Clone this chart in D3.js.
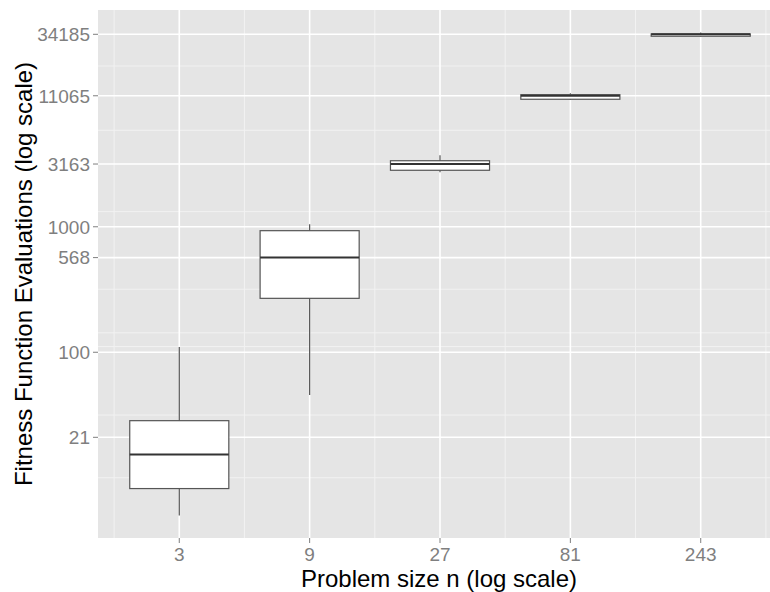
<!DOCTYPE html>
<html>
<head>
<meta charset="utf-8">
<style>
    body { margin: 0; background: white; }
    svg { display: block; font-family: 'Liberation Sans', Arial, sans-serif; }
    .tick-label { fill: #7f7f7f; font-size: 19px; }
    .axis-title { fill: black; font-size: 24px; }
</style>
</head>
<body>
<svg width="770" height="592"></svg>

<script src="https://d3js.org/d3.v7.min.js"></script>
<script>

    // problem sizes and box stats
    let sizes = [3, 9, 27, 81, 243]
    let whiskerLow = [5.0, 45.7, 2720, 10300, 32700]
    let q1 = [8.2, 269, 2820, 10380, 33000]
    let median = [15.3, 568, 3163, 11065, 34185]
    let q3 = [28.5, 931, 3360, 11290, 34400]
    let whiskerHigh = [110, 1047, 3715, 11590, 35400]

    // axis breaks
    let yTicks = [21, 100, 568, 1000, 3163, 11065, 34185]
    let yMinor = [10, 31.6, 111, 143, 318, 1320, 5875, 19100]
    let xTicks = [3, 9, 27, 81, 243]
    let xMinor = [1.732, 5.196, 15.59, 46.77, 140.3, 420.9]

    let boxes = sizes.map((s, i) => ({
        n: s, lo: whiskerLow[i], q1: q1[i], med: median[i], q3: q3[i], hi: whiskerHigh[i]
    }))

    let width = 770
    let height = 592
    let panel = { left: 98, top: 10, right: 782, bottom: 538 }

    let svg = d3.select("svg")

    let x = d3.scaleLog().base(3)
        .domain([Math.pow(3, 0.3765), Math.pow(3, 5.6235)])
        .range([panel.left, panel.right])

    let y = d3.scaleLog()
        .domain([3.31, 53400])
        .range([panel.bottom, panel.top])

    let halfW = Math.pow(3, 0.38)   // box half width, in log3 units

    // panel background
    svg.append("rect")
        .attr("x", panel.left)
        .attr("y", panel.top)
        .attr("width", width - panel.left)
        .attr("height", panel.bottom - panel.top)
        .style("fill", "#e5e5e5")

    let grid = svg.append("g")

    grid.selectAll(".ymin")
        .data(yMinor)
        .join("line")
        .attr("x1", panel.left).attr("x2", width)
        .attr("y1", d => y(d)).attr("y2", d => y(d))
        .style("stroke", "#f2f2f2")
        .style("stroke-width", 1)

    grid.selectAll(".xmin")
        .data(xMinor)
        .join("line")
        .attr("x1", d => x(d)).attr("x2", d => x(d))
        .attr("y1", panel.top).attr("y2", panel.bottom)
        .style("stroke", "#f2f2f2")
        .style("stroke-width", 1)

    grid.selectAll(".ymaj")
        .data(yTicks)
        .join("line")
        .attr("x1", panel.left).attr("x2", width)
        .attr("y1", d => y(d)).attr("y2", d => y(d))
        .style("stroke", "white")
        .style("stroke-width", 1.6)

    grid.selectAll(".xmaj")
        .data(xTicks)
        .join("line")
        .attr("x1", d => x(d)).attr("x2", d => x(d))
        .attr("y1", panel.top).attr("y2", panel.bottom)
        .style("stroke", "white")
        .style("stroke-width", 1.6)

    // boxplots
    let g = svg.append("g")
        .selectAll(".box")
        .data(boxes)
        .join("g")

    g.append("line")
        .attr("x1", d => x(d.n)).attr("x2", d => x(d.n))
        .attr("y1", d => y(d.hi)).attr("y2", d => y(d.lo))
        .style("stroke", "#555555")
        .style("stroke-width", 1.2)

    g.append("rect")
        .attr("x", d => x(d.n / halfW))
        .attr("width", d => x(d.n * halfW) - x(d.n / halfW))
        .attr("y", d => y(d.q3))
        .attr("height", d => y(d.q1) - y(d.q3))
        .style("fill", "white")
        .style("stroke", "#555555")
        .style("stroke-width", 1.2)

    g.append("line")
        .attr("x1", d => x(d.n / halfW)).attr("x2", d => x(d.n * halfW))
        .attr("y1", d => y(d.med)).attr("y2", d => y(d.med))
        .style("stroke", "#333333")
        .style("stroke-width", 2)

    // axes
    let yAxis = svg.append("g")
    yAxis.selectAll("line")
        .data(yTicks)
        .join("line")
        .attr("x1", panel.left - 5).attr("x2", panel.left)
        .attr("y1", d => y(d)).attr("y2", d => y(d))
        .style("stroke", "#7f7f7f")
    yAxis.selectAll("text")
        .data(yTicks)
        .join("text")
        .attr("class", "tick-label")
        .attr("x", panel.left - 8)
        .attr("y", d => y(d))
        .attr("dy", "0.36em")
        .attr("text-anchor", "end")
        .text(d => d)

    let xAxis = svg.append("g")
    xAxis.selectAll("line")
        .data(xTicks)
        .join("line")
        .attr("x1", d => x(d)).attr("x2", d => x(d))
        .attr("y1", panel.bottom).attr("y2", panel.bottom + 5)
        .style("stroke", "#7f7f7f")
    xAxis.selectAll("text")
        .data(xTicks)
        .join("text")
        .attr("class", "tick-label")
        .attr("x", d => x(d))
        .attr("y", 561)
        .attr("text-anchor", "middle")
        .text(d => d)

    svg.append("text")
        .attr("class", "axis-title")
        .attr("x", 439)
        .attr("y", 587)
        .attr("text-anchor", "middle")
        .text("Problem size n (log scale)")

    svg.append("text")
        .attr("class", "axis-title")
        .attr("transform", "translate(32," + ((panel.top + panel.bottom) / 2) + ") rotate(-90)")
        .attr("text-anchor", "middle")
        .text("Fitness Function Evaluations (log scale)")

</script>
</body>
</html>
